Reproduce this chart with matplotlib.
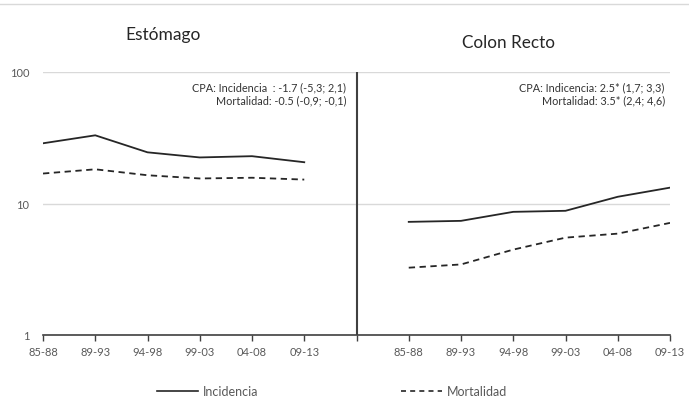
import matplotlib.pyplot as plt
import numpy as np
from matplotlib.lines import Line2D

periods = ["85-88", "89-93", "94-98", "99-03", "04-08", "09-13"]

# tasas por 100.000, escala logaritmica
estomago_incidencia = [28.7, 33.0, 24.5, 22.4, 22.9, 20.6]
estomago_mortalidad = [16.9, 18.2, 16.4, 15.5, 15.7, 15.2]
colon_incidencia = [7.25, 7.38, 8.64, 8.80, 11.25, 13.2]
colon_mortalidad = [3.25, 3.44, 4.46, 5.5, 5.9, 7.12]

cpa_estomago = ["CPA: Incidencia  : -1.7 (-5,3; 2,1)", "Mortalidad: -0.5 (-0,9; -0,1)"]
cpa_colon = ["CPA: Indicencia: 2.5* (1,7; 3,3)", "Mortalidad: 3.5* (2,4; 4,6)"]

plt.rcParams["font.family"] = ["Lato", "DejaVu Sans"]

W, H = 689, 406
fig = plt.figure(figsize=(W / 100, H / 100), dpi=100)
ax = fig.add_axes([43 / W, 1 - 336 / H, (670 - 43) / W, (336 - 73) / H])

n = len(periods)
x_left = np.arange(n)
x_right = np.arange(n) + n + 1

line_kw = dict(color="#262626", lw=1.3)
ax.plot(x_left, estomago_incidencia, **line_kw)
ax.plot(x_left, estomago_mortalidad, ls=(0, (3.5, 2.5)), **line_kw)
ax.plot(x_right, colon_incidencia, **line_kw)
ax.plot(x_right, colon_mortalidad, ls=(0, (3.5, 2.5)), **line_kw)

ax.set_yscale("log")
ax.set_ylim(1, 100)
ax.set_xlim(0, 2 * n)
ax.set_yticks([1, 10, 100])
ax.set_yticklabels(["1", "10", "100"])
ax.yaxis.set_minor_locator(plt.NullLocator())
ax.grid(axis="y", color="#d9d9d9", lw=1)
ax.set_axisbelow(True)

ax.set_xticks(np.arange(2 * n + 1))
ax.set_xticklabels(periods + [""] + periods)
ax.tick_params(axis="x", length=4, width=1, color="#404040", labelsize=8,
               labelcolor="#595959", pad=4)
ax.tick_params(axis="y", length=0, labelsize=8, labelcolor="#595959", pad=10)

for side in ["top", "right", "left"]:
    ax.spines[side].set_visible(False)
ax.spines["bottom"].set_color("#404040")
ax.spines["bottom"].set_linewidth(1.2)

# separador entre los dos paneles
ax.axvline(n, color="#404040", lw=1.5)

note_kw = dict(ha="right", va="center", fontsize=7.8, color="#333333")
ax.text(5.8, 77, cpa_estomago[0], **note_kw)
ax.text(5.8, 61, cpa_estomago[1], **note_kw)
ax.text(11.9, 77, cpa_colon[0], **note_kw)
ax.text(11.9, 61, cpa_colon[1], **note_kw)

fig.text(163 / W, 1 - 35 / H, "Estómago", ha="center", va="center", fontsize=12.5, color="#262626")
fig.text(508 / W, 1 - 43 / H, "Colon Recto", ha="center", va="center", fontsize=12.3, color="#262626")

# borde superior
fig.add_artist(Line2D([0, 1], [1 - 5 / H, 1 - 5 / H], color="#d9d9d9", lw=1))

handles = [
    Line2D([], [], color="#262626", lw=1.2),
    Line2D([], [], color="#262626", lw=1.2, ls=(0, (3, 2.5))),
]
fig.legend(handles, ["Incidencia", "Mortalidad"], loc="center", ncol=2,
           bbox_to_anchor=(0.482, 1 - 392 / H), frameon=False, fontsize=9,
           labelcolor="#595959", handlelength=3.3, columnspacing=11.4, handletextpad=0.4)

fig.savefig("out.png", dpi=100)
